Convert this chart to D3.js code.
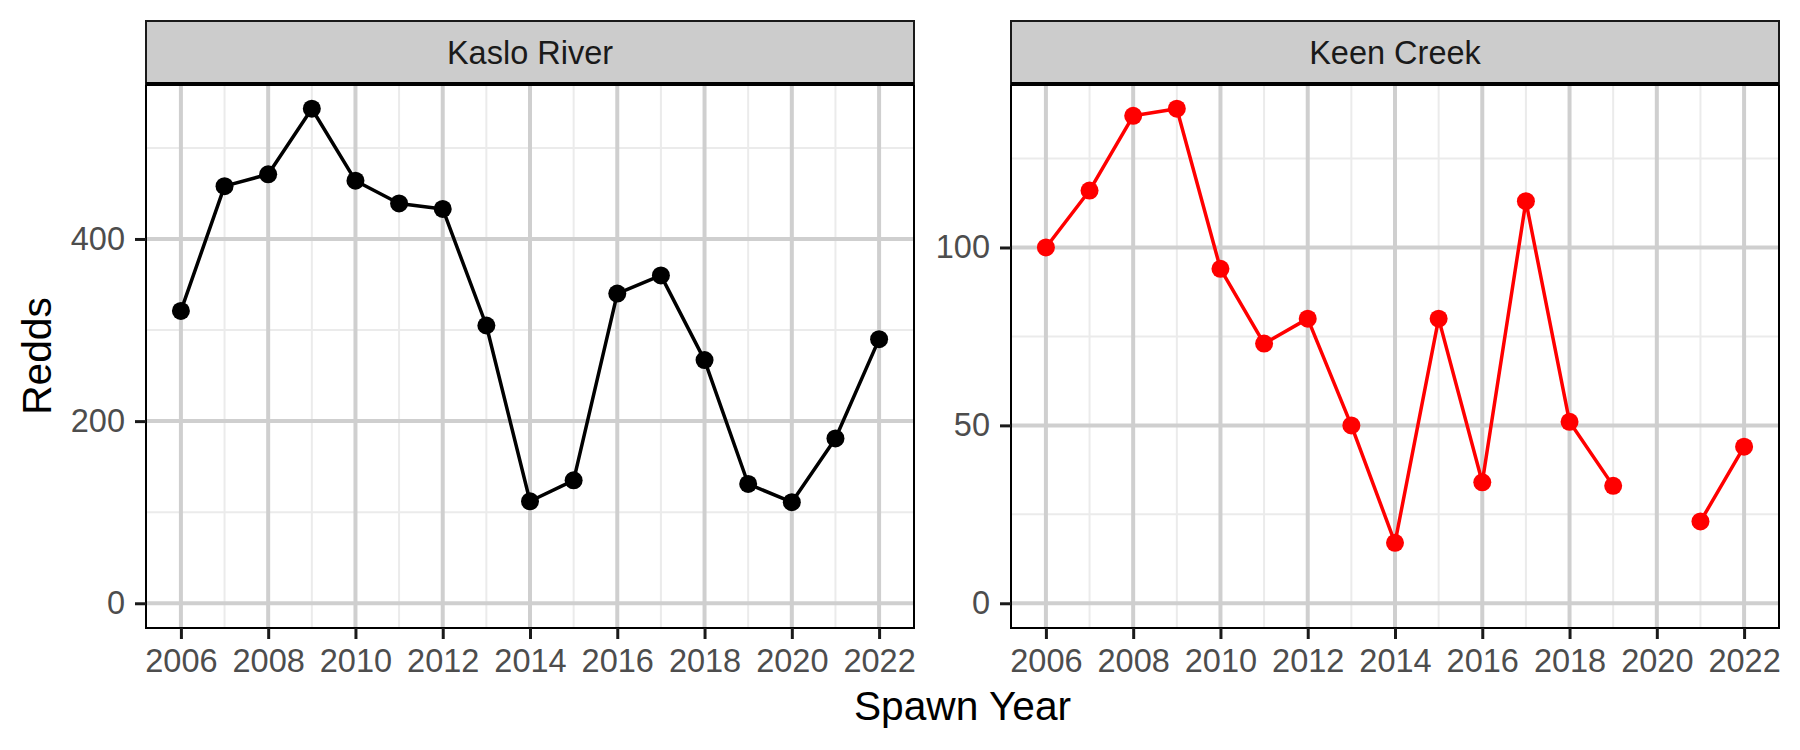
<!DOCTYPE html>
<html>
<head>
  <script src="https://d3js.org/d3.v7.min.js"></script>
  <style>
    body { margin: 0; background: white; }
    svg { display: block; font-family: "Liberation Sans", Arial, Helvetica, sans-serif; }
  </style>
</head>
<body>
  <svg id="chart" width="1800" height="750"></svg>
  <script>
  // data
  const years = d3.range(2006, 2023);
  const kasloRedds = [321, 458, 471, 543, 464, 439, 433, 305, 112, 135, 340, 360, 267, 131, 111, 181, 290];
  const keenRedds = [100, 116, 137, 139, 94, 73, 80, 50, 17, 80, 34, 113, 51, 33, null, 23, 44];
  const xTicks = [2006, 2008, 2010, 2012, 2014, 2016, 2018, 2020, 2022];
  const kasloYTicks = [0, 200, 400];
  const keenYTicks = [0, 50, 100];

  const panels = [
    { name: "Kaslo River", values: kasloRedds, yTicks: kasloYTicks, color: "#000000", left: 146 },
    { name: "Keen Creek", values: keenRedds, yTicks: keenYTicks, color: "#FF0000", left: 1011 }
  ];

  const svg = d3.select("#chart");
  const panelW = 768, stripTop = 21, panelTop = 84, panelBottom = 628;

  panels.forEach(p => {
    const g = svg.append("g");
    const right = p.left + panelW;

    // scales with ggplot-like 5% expansion
    const xs = d3.scaleLinear().domain([2006 - 0.8, 2022 + 0.8]).range([p.left, right]);
    const maxV = d3.max(p.values);
    const pad = maxV * 0.05;
    const ys = d3.scaleLinear().domain([-pad, maxV + pad]).range([panelBottom, panelTop]);

    // minor grid
    const step = p.yTicks[1] - p.yTicks[0];
    const yMinor = d3.range(step / 2, maxV + pad, step);
    const xMinor = d3.range(2007, 2023, 2);
    g.append("g").selectAll("line").data(yMinor).join("line")
      .attr("x1", p.left).attr("x2", right)
      .attr("y1", d => ys(d)).attr("y2", d => ys(d))
      .attr("stroke", "#EBEBEB").attr("stroke-width", 2);
    g.append("g").selectAll("line").data(xMinor).join("line")
      .attr("x1", d => xs(d)).attr("x2", d => xs(d))
      .attr("y1", panelTop).attr("y2", panelBottom)
      .attr("stroke", "#EBEBEB").attr("stroke-width", 2);

    // major grid
    g.append("g").selectAll("line").data(p.yTicks).join("line")
      .attr("x1", p.left).attr("x2", right)
      .attr("y1", d => ys(d)).attr("y2", d => ys(d))
      .attr("stroke", "#CFCFCF").attr("stroke-width", 4);
    g.append("g").selectAll("line").data(xTicks).join("line")
      .attr("x1", d => xs(d)).attr("x2", d => xs(d))
      .attr("y1", panelTop).attr("y2", panelBottom)
      .attr("stroke", "#CFCFCF").attr("stroke-width", 4);

    // data
    const pts = years.map((y, i) => ({ year: y, value: p.values[i] }));
    const line = d3.line()
      .defined(d => d.value != null)
      .x(d => xs(d.year)).y(d => ys(d.value));
    g.append("path").datum(pts)
      .attr("d", line)
      .attr("fill", "none")
      .attr("stroke", p.color)
      .attr("stroke-width", 3.5)
      .attr("stroke-linejoin", "round");
    g.append("g").selectAll("circle").data(pts.filter(d => d.value != null)).join("circle")
      .attr("cx", d => xs(d.year)).attr("cy", d => ys(d.value))
      .attr("r", 9).attr("fill", p.color);

    // panel border
    g.append("rect")
      .attr("x", p.left).attr("y", panelTop)
      .attr("width", panelW).attr("height", panelBottom - panelTop)
      .attr("fill", "none").attr("stroke", "#000").attr("stroke-width", 2);

    // strip
    g.append("rect")
      .attr("x", p.left).attr("y", stripTop)
      .attr("width", panelW).attr("height", panelTop - stripTop)
      .attr("fill", "#CCCCCC").attr("stroke", "#1A1A1A").attr("stroke-width", 2);
    g.append("line")
      .attr("x1", p.left).attr("x2", right)
      .attr("y1", panelTop).attr("y2", panelTop)
      .attr("stroke", "#000").attr("stroke-width", 4);
    g.append("text")
      .attr("x", (p.left + right) / 2).attr("y", 64)
      .attr("text-anchor", "middle")
      .attr("font-size", 32.5).attr("fill", "#1A1A1A")
      .text(p.name);

    // axes
    const xAxis = g.append("g").attr("transform", `translate(0,${panelBottom})`)
      .call(d3.axisBottom(xs).tickValues(xTicks).tickFormat(d3.format("d")).tickSize(11).tickPadding(10));
    const yAxis = g.append("g").attr("transform", `translate(${p.left},0)`)
      .call(d3.axisLeft(ys).tickValues(p.yTicks).tickSize(11).tickPadding(10));
    [xAxis, yAxis].forEach(a => {
      a.select(".domain").remove();
      a.selectAll(".tick line").attr("stroke", "#1A1A1A").attr("stroke-width", 3);
      a.selectAll(".tick text")
        .attr("fill", "#4D4D4D")
        .attr("font-size", 32.5)
        .attr("font-family", "Liberation Sans, Arial, sans-serif");
    });
  });

  // axis titles
  svg.append("text")
    .attr("x", (146 + 1011 + panelW) / 2).attr("y", 720)
    .attr("text-anchor", "middle")
    .attr("font-size", 40.7).attr("fill", "#000")
    .text("Spawn Year");
  svg.append("text")
    .attr("transform", `translate(51,${(panelTop + panelBottom) / 2}) rotate(-90)`)
    .attr("text-anchor", "middle")
    .attr("font-size", 40.7).attr("fill", "#000")
    .text("Redds");
  </script>
</body>
</html>
